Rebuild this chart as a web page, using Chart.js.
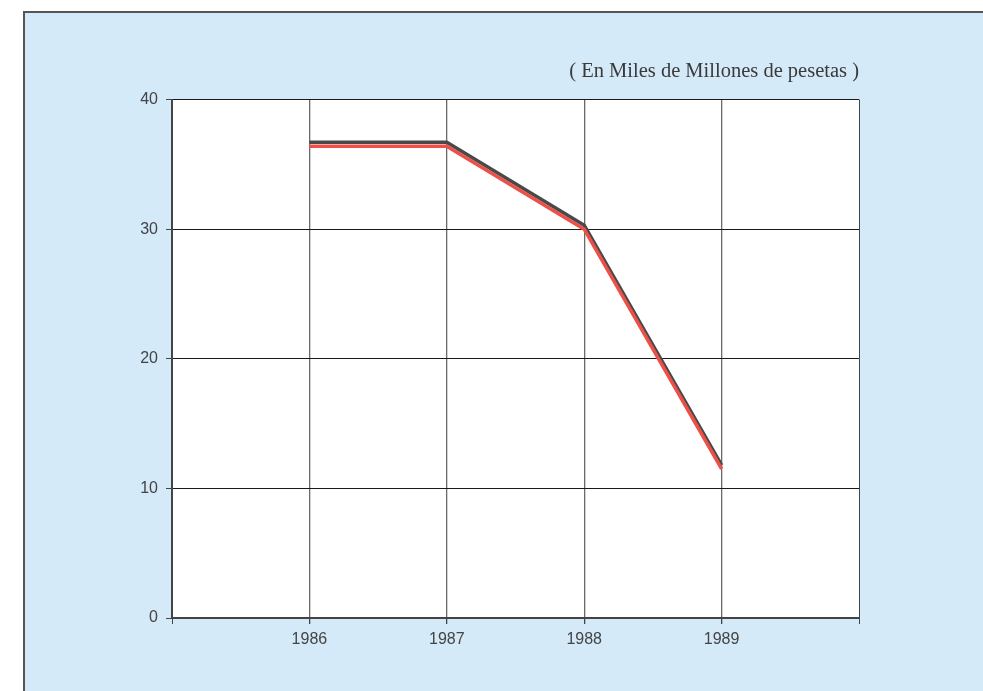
<!DOCTYPE html>
<html>
<head>
<meta charset="utf-8">
<script src="https://cdn.jsdelivr.net/npm/chart.js@4/dist/chart.umd.min.js"></script>
<style>
  body { margin: 0; background: #fff; }
  canvas { display: block; }
</style>
</head>
<body>
<canvas id="chart" width="983" height="691"></canvas>
<script>
// data
const years = [1986, 1987, 1988, 1989]
const darkSeries = [36.7, 36.7, 30.3, 11.8]
const redSeries = [36.4, 36.4, 30.0, 11.5]
const yTicks = [0, 10, 20, 30, 40]
const unitsLabel = '( En Miles de Millones de pesetas )'

const toPoints = vals => years.map((y, i) => ({x: y, y: vals[i]}))

// light blue panel behind, white plot area
const panel = {
  id: 'panel',
  beforeDraw(chart) {
    const {ctx, chartArea: a} = chart
    ctx.save()
    ctx.fillStyle = '#ffffff'
    ctx.fillRect(0, 0, chart.width, chart.height)
    ctx.fillStyle = '#d4eaf9'
    ctx.fillRect(24, 12, chart.width, chart.height)
    ctx.strokeStyle = '#555'
    ctx.lineWidth = 2
    ctx.strokeRect(24, 12, chart.width + 10, chart.height + 10)
    ctx.fillStyle = '#ffffff'
    ctx.fillRect(a.left, a.top, a.right - a.left, a.bottom - a.top)
    ctx.restore()
  }
}

Chart.defaults.font.family = '"Liberation Sans", Arial, sans-serif'
Chart.defaults.font.size = 16
Chart.defaults.color = '#444'

const chart = new Chart(document.getElementById('chart'), {
  type: 'line',
  data: {
    datasets: [
      {
        label: 'rojo',
        data: toPoints(redSeries),
        borderColor: '#ee4f48',
        borderWidth: 3.5,
        pointRadius: 0,
        order: 0
      },
      {
        label: 'oscuro',
        data: toPoints(darkSeries),
        borderColor: '#474a48',
        borderWidth: 3.5,
        pointRadius: 0,
        order: 1
      }
    ]
  },
  options: {
    responsive: false,
    animation: false,
    layout: {padding: {left: 0, right: 124, top: 0, bottom: 0}},
    plugins: {
      legend: {display: false},
      tooltip: {enabled: false},
      title: {
        display: true,
        text: unitsLabel,
        align: 'end',
        color: '#3a3a3a',
        font: {family: '"Liberation Serif", "Times New Roman", serif', size: 20.5, weight: 'normal'},
        padding: {top: 59, bottom: 16}
      }
    },
    scales: {
      x: {
        type: 'linear',
        min: 1985,
        max: 1990,
        afterFit: s => { s.height = 73 },
        ticks: {
          stepSize: 1,
          padding: 6,
          callback: v => (years.includes(v) ? String(v) : '')
        },
        grid: {
          color: c => (c.tick && years.includes(c.tick.value) ? '#6a6a6a' : '#444'),
          lineWidth: c => (c.tick && years.includes(c.tick.value) ? 1.3 : 1),
          tickColor: '#444',
          tickLength: 6
        },
        border: {color: '#444', width: 2}
      },
      y: {
        min: 0,
        max: 40,
        afterFit: s => { s.width = 172 },
        afterBuildTicks: s => { s.ticks = yTicks.map(v => ({value: v})) },
        ticks: {padding: 8},
        grid: {color: '#1a1a1a', tickColor: '#444', tickLength: 6},
        border: {color: '#444', width: 2}
      }
    }
  },
  plugins: [panel]
})
</script>
</body>
</html>
